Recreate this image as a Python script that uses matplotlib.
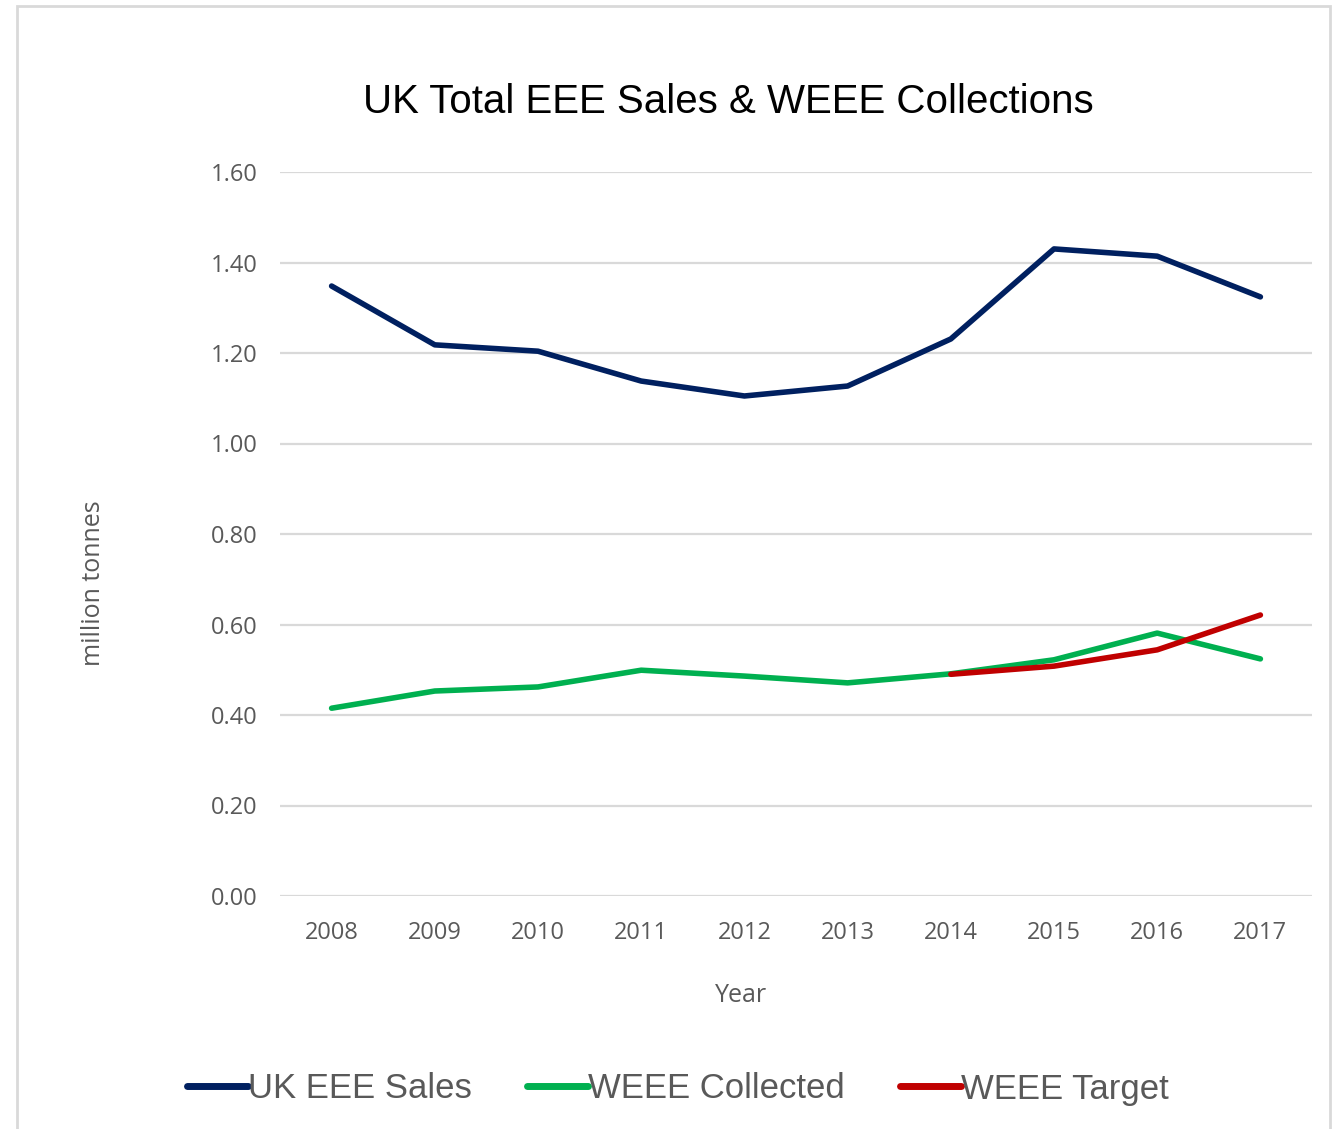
import matplotlib
matplotlib.use("Agg")
import matplotlib.pyplot as plt
from matplotlib.patches import Rectangle

years = ["2008", "2009", "2010", "2011", "2012", "2013", "2014", "2015", "2016", "2017"]
eee_sales = [1.348, 1.218, 1.204, 1.138, 1.105, 1.127, 1.231, 1.430, 1.414, 1.324]
weee_collected = [0.415, 0.453, 0.462, 0.499, 0.486, 0.471, 0.491, 0.522, 0.581, 0.524]
target_years = ["2014", "2015", "2016", "2017"]
weee_target = [0.490, 0.508, 0.544, 0.621]
yticks = [0.0, 0.2, 0.4, 0.6, 0.8, 1.0, 1.2, 1.4, 1.6]

W, H = 1340, 1129
fig = plt.figure(figsize=(W / 100, H / 100), dpi=100)
ax = fig.add_axes([280 / W, 1 - 896 / H, (1312 - 280) / W, (896 - 172) / H])

x = list(range(len(years)))
xt = [years.index(y) for y in target_years]
lw = 4.0
ax.plot(x, eee_sales, color="#002060", lw=lw, solid_capstyle="round", label="UK EEE Sales", zorder=3)
ax.plot(x, weee_collected, color="#00B050", lw=lw, solid_capstyle="round", label="WEEE Collected", zorder=3)
ax.plot(xt, weee_target, color="#C00000", lw=lw, solid_capstyle="round", label="WEEE Target", zorder=4)

ax.set_xlim(-0.5, len(years) - 0.5)
ax.set_ylim(0, 1.6)
ax.set_yticks(yticks)
ax.set_yticklabels([f"{v:.2f}" for v in yticks])
ax.set_xticks(x)
ax.set_xticklabels(years)
ax.grid(axis="y", color="#D9D9D9", lw=1.6)
ax.set_axisbelow(True)
for s in ax.spines.values():
    s.set_visible(False)
ax.tick_params(length=0, labelsize=17, colors="#595959")
ax.tick_params(axis="y", pad=16)
ax.tick_params(axis="x", pad=18)
for lab in ax.get_xticklabels() + ax.get_yticklabels():
    lab.set_family("Open Sans")

ax.set_ylabel("million tonnes", fontsize=18, color="#595959", family="Open Sans")
ax.yaxis.set_label_coords((93 - 280) / (1312 - 280), (896 - 583) / (896 - 172))
ax.set_xlabel("Year", fontsize=18, color="#595959", family="Open Sans")
ax.xaxis.set_label_coords((741 - 280) / (1312 - 280), -(995 - 896) / (896 - 172))
ax.xaxis.label.set_va("center")
ax.yaxis.label.set_va("center")

fig.text(728 / W, 1 - 102 / H, "UK Total EEE Sales & WEEE Collections", ha="center", va="center",
         fontsize=29, family="Liberation Sans", color="#000000")

leg = fig.legend(loc="center", bbox_to_anchor=(678 / W, 1 - 1089 / H), ncol=3, frameon=False,
                 prop={"family": "Liberation Sans", "size": 25}, handlelength=1.75,
                 handletextpad=0.0, columnspacing=1.6)
for t in leg.get_texts():
    t.set_color("#595959")
for h in leg.get_lines():
    h.set_linewidth(5)

fig.add_artist(Rectangle((17 / W, -0.05), (1330 - 17) / W, 1.05 - 6 / H, transform=fig.transFigure,
                         fill=False, edgecolor="#D9D9D9", lw=2))

fig.savefig("out.png", dpi=100)
